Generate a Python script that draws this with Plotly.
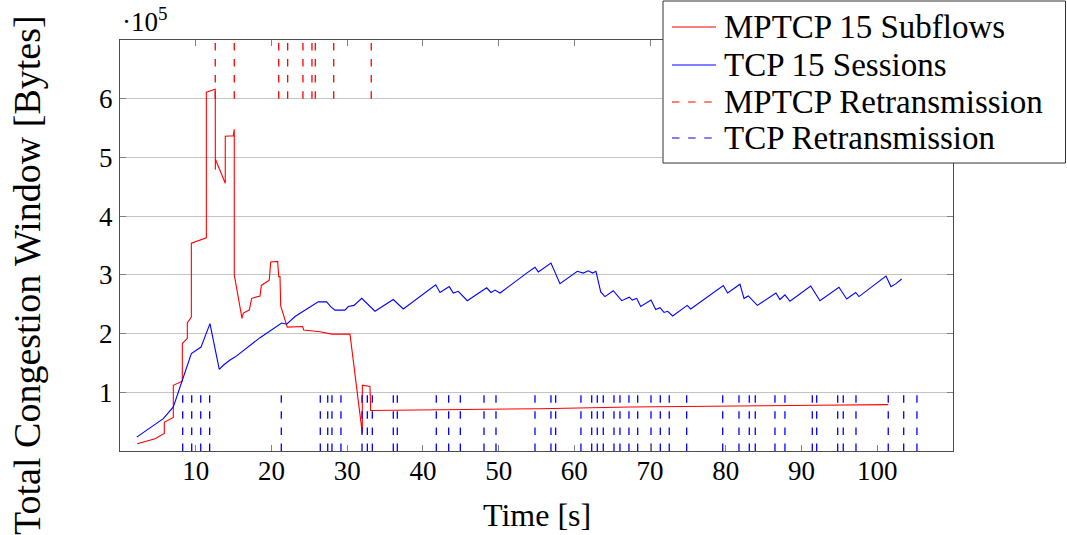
import plotly.graph_objects as go

# ---- data (time in s, congestion window in bytes) ----
mptcp_t = [2.28, 4.62, 5.85, 5.85, 7.04, 7.04, 8.23, 8.23, 8.89, 8.89, 9.42, 9.42,
           11.40, 11.40, 12.58, 12.59, 12.60, 13.90, 13.90, 14.96, 15.09, 15.09,
           16.11, 16.28, 17.07, 17.39, 18.49, 18.66, 19.71, 19.90, 20.82, 20.96,
           21.13, 21.22, 22.09, 24.13, 24.26, 26.41, 27.95, 30.37, 32.00, 32.00,
           33.01, 33.10, 51.06, 55.46, 67.34, 79.23, 83.85, 92.17, 101.45]
mptcp_cwnd = [12300, 21000, 30000, 49000, 57000, 112000, 119000, 183000, 192000, 218000,
              228000, 354000, 363000, 611000, 616000, 479000, 497000, 456000, 536000,
              537000, 548000, 300000, 226000, 235000, 240000, 260000, 264000, 282000,
              291000, 322000, 323000, 297000, 297000, 247000, 211000, 212000, 206000,
              203000, 199000, 199000, 30000, 112000, 110000, 69000, 71000, 72000,
              75000, 77000, 77000, 78000, 79000]

tcp_t = [2.21, 5.72, 7.04, 8.23, 9.42, 10.70, 11.88, 13.11, 13.64, 14.53, 15.19, 18.49,
         21.35, 22.01, 23.11, 26.18, 27.29, 27.82, 28.39, 29.71, 30.15, 30.90, 31.92,
         33.67, 36.09, 37.41, 41.69, 42.26, 43.48, 44.01, 44.67, 45.86, 48.42, 48.99,
         49.52, 50.18, 51.27, 53.70, 54.80, 55.24, 56.91, 58.10, 60.39, 61.18, 61.84,
         62.42, 62.85, 63.48, 64.04, 65.14, 66.25, 67.25, 67.65, 68.23, 68.76, 70.12,
         70.74, 71.31, 71.84, 72.32, 72.98, 74.91, 75.36, 79.67, 80.24, 81.87, 82.40,
         82.97, 84.16, 86.62, 87.15, 87.81, 88.47, 91.21, 92.43, 94.94, 95.96, 97.15,
         97.58, 101.15, 101.81, 102.47, 103.22]
tcp_cwnd = [23600, 55000, 75000, 120000, 166000, 177000, 217000, 139000, 146000, 155000,
            160000, 193000, 218000, 216000, 229000, 254000, 254000, 246000, 240000,
            240000, 246000, 248000, 260000, 238000, 258000, 242000, 283000, 270000,
            280000, 269000, 272000, 256000, 278000, 270000, 274000, 269000, 280000,
            303000, 313000, 305000, 320000, 285000, 306000, 303000, 307000, 303000,
            306000, 271000, 263000, 273000, 256000, 262000, 257000, 260000, 246000,
            257000, 241000, 244000, 236000, 238000, 230000, 248000, 242000, 282000,
            269000, 284000, 260000, 264000, 248000, 269000, 258000, 266000, 255000,
            281000, 256000, 279000, 259000, 270000, 263000, 298000, 280000, 285000, 293000]

mptcp_retx = [12.58, 15.09, 20.96, 22.14, 24.16, 25.35, 25.79, 28.22, 33.18]
tcp_retx = [8.28, 9.47, 10.66, 11.84, 21.30, 26.45, 27.43, 27.99, 29.18, 31.96, 32.66,
            33.32, 36.09, 36.62, 41.77, 43.40, 44.94, 48.07, 49.65, 54.80, 56.91, 57.53,
            60.87, 62.29, 63.03, 63.82, 65.23, 66.02, 67.21, 68.36, 70.12, 71.35, 72.53,
            74.83, 79.59, 81.74, 83.10, 83.89, 86.49, 87.81, 91.42, 92.00, 94.77, 95.51,
            97.19, 101.45, 103.49, 105.24]

mptcp_retx_span = [600000, 700000]
tcp_retx_span = [0, 100000]

y_tick_vals = [100000, 200000, 300000, 400000, 500000, 600000]
y_tick_text = ["1", "2", "3", "4", "5", "6"]
x_tick_vals = [10, 20, 30, 40, 50, 60, 70, 80, 90, 100]

series_names = ["MPTCP 15 Subflows", "TCP 15 Sessions", "MPTCP Retransmission", "TCP Retransmission"]
series_colors = ["#ff0000", "#0000ff", "#ff0000", "#0000ff"]
series_dashed = [False, False, True, True]


def vlines(ts, span):
    xs, ys = [], []
    for t in ts:
        xs += [t, t, None]
        ys += [span[0], span[1], None]
    return xs, ys


FONT = "Liberation Serif, DejaVu Serif, serif"
DASH = "7.5px,8.6px"

W, H = 1067, 535
ML, MR, MT, MB = 120, 114, 40, 84
PW, PH = W - ML - MR, H - MT - MB


def px_x(px):
    return (px - ML) / PW


def px_y(py):
    return (H - MB - py) / PH


fig = go.Figure()
rx, ry = vlines(mptcp_retx, mptcp_retx_span)
bx, by = vlines(tcp_retx, tcp_retx_span)

fig.add_trace(go.Scatter(x=mptcp_t, y=mptcp_cwnd, mode="lines", name=series_names[0],
                         line=dict(color=series_colors[0], width=1.1)))
fig.add_trace(go.Scatter(x=tcp_t, y=tcp_cwnd, mode="lines", name=series_names[1],
                         line=dict(color=series_colors[1], width=1.1)))
fig.add_trace(go.Scatter(x=rx, y=ry, mode="lines", name=series_names[2],
                         line=dict(color=series_colors[2], width=1.3, dash=DASH)))
fig.add_trace(go.Scatter(x=bx, y=by, mode="lines", name=series_names[3],
                         line=dict(color=series_colors[3], width=1.3, dash=DASH)))

axis_common = dict(showline=True, linecolor="#4d4d4d", linewidth=1, mirror="ticks",
                   ticks="inside", ticklen=6, tickcolor="#808080", tickwidth=1,
                   zeroline=False, tickfont=dict(family=FONT, size=27, color="black"))

fig.update_layout(
    width=W, height=H,
    margin=dict(l=ML, r=MR, t=MT, b=MB),
    paper_bgcolor="white", plot_bgcolor="white",
    font=dict(family=FONT, color="black"),
    xaxis=dict(range=[0, 110], tickvals=x_tick_vals, showgrid=False,
               ticklabelstandoff=-4, **axis_common),
    yaxis=dict(range=[0, 700000], tickvals=y_tick_vals, ticktext=y_tick_text,
               showgrid=True, gridcolor="#c4c4c4", gridwidth=1,
               ticklabelstandoff=1, **axis_common),
    showlegend=False,
)

# legend box
fig.add_shape(type="rect", xref="paper", yref="paper",
              x0=px_x(663), x1=px_x(1065.5), y0=px_y(163), y1=px_y(1),
              fillcolor="white", line=dict(color="#333333", width=1), layer="above")
row_y = [27, 65, 102, 138]
for name, col, dashed, ry_px in zip(series_names, series_colors, series_dashed, row_y):
    fig.add_shape(type="line", xref="paper", yref="paper",
                  x0=px_x(672), x1=px_x(716), y0=px_y(ry_px), y1=px_y(ry_px),
                  line=dict(color=col, width=1.2, dash=DASH if dashed else "solid"),
                  layer="above")
    fig.add_annotation(text=name, xref="paper", yref="paper", x=px_x(722), y=px_y(ry_px),
                       xanchor="left", yanchor="middle", showarrow=False,
                       font=dict(family=FONT, size=33, color="black"))

fig.add_annotation(text="·10<sup>5</sup>", xref="paper", yref="paper", x=0, y=px_y(20),
                   xanchor="left", yanchor="middle", showarrow=False,
                   font=dict(family=FONT, size=27, color="black"))
fig.add_annotation(text="Total Congestion Window [Bytes]", xref="paper", yref="paper",
                   x=px_x(27), y=px_y(275), xanchor="center", yanchor="middle", textangle=-90,
                   showarrow=False, font=dict(family=FONT, size=38, color="black"))
fig.add_annotation(text="Time [s]", xref="paper", yref="paper", x=0.5, y=px_y(515),
                   xanchor="center", yanchor="middle", showarrow=False,
                   font=dict(family=FONT, size=32, color="black"))

fig.write_html("out.html")
